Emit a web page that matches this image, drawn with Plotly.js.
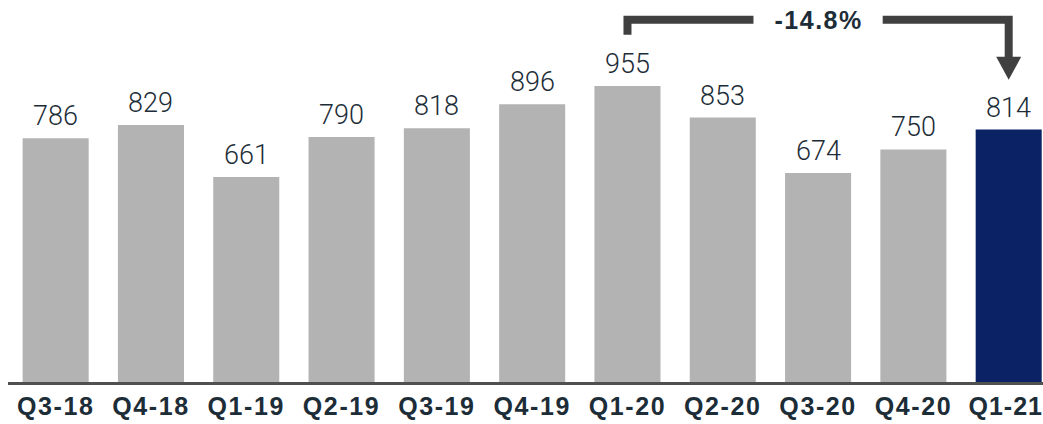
<!DOCTYPE html>
<html>
<head>
<meta charset="utf-8">
<script src="https://cdn.plot.ly/plotly-3.0.1.min.js"></script>
<style>
html,body{margin:0;padding:0;background:#fff;}
#chart{width:1043px;height:424px;}
.xtick text{letter-spacing:1.6px;}
</style>
</head>
<body>
<div id="chart"></div>
<script>
var quarters = ["Q3-18","Q4-18","Q1-19","Q2-19","Q3-19","Q4-19","Q1-20","Q2-20","Q3-20","Q4-20","Q1-21"];
var values = [786, 829, 661, 790, 818, 896, 955, 853, 674, 750, 814];
var changeLabel = "-14.8%";
var changeFrom = 6, changeTo = 10, changeLabelAt = 8;

var gray = "#b3b3b3", navy = "#0b2265", textCol = "#1d2d38", arrowCol = "#404040";
var colors = values.map(function(v, i){ return i === values.length - 1 ? navy : gray; });

var bracketY = 1168;

var trace = {
  type: "bar",
  x: quarters,
  y: values,
  marker: {color: colors, line: {width: 0}},
  hoverinfo: "none"
};

var valueAnns = quarters.map(function(q, i){
  return {x: q, y: values[i], xref: "x", yref: "y", text: String(values[i]), showarrow: false,
    xanchor: "center", yanchor: "bottom", yshift: 4,
    font: {family: "Roboto", size: 27, color: textCol, weight: 300}};
});

var layout = {
  width: 1043, height: 424,
  margin: {l: 8, r: 0, t: 0, b: 42},
  paper_bgcolor: "#fff", plot_bgcolor: "#fff",
  bargap: 0.307,
  showlegend: false,
  xaxis: {
    type: "category",
    range: [-0.5, 10.36],
    showline: true, linecolor: "#505050", linewidth: 2.5,
    showgrid: false, zeroline: false, ticks: "",
    tickfont: {family: "Liberation Sans", size: 25, color: textCol, weight: "bold"}
  },
  yaxis: {
    range: [0, 1232],
    visible: false, showgrid: false, zeroline: false
  },
  shapes: [
    {type: "path", xref: "x", yref: "y", xsizemode: "pixel", ysizemode: "pixel",
     xanchor: changeFrom, yanchor: bracketY,
     path: "M 0,-15 L 0,0 L 126,0", line: {color: arrowCol, width: 8}},
    {type: "path", xref: "x", yref: "y", xsizemode: "pixel", ysizemode: "pixel",
     xanchor: changeTo, yanchor: bracketY,
     path: "M -126,0 L 0,0 L 0,-38", line: {color: arrowCol, width: 8}},
    {type: "path", xref: "x", yref: "y", xsizemode: "pixel", ysizemode: "pixel",
     xanchor: changeTo, yanchor: bracketY,
     path: "M -12.5,-37 L 12.5,-37 L 0,-60 Z", fillcolor: arrowCol, line: {width: 0}}
  ],
  annotations: valueAnns.concat([
    {x: changeLabelAt, y: bracketY, xref: "x", yref: "y", text: changeLabel, showarrow: false,
     font: {family: "Liberation Sans", size: 25, color: textCol, weight: "bold"},
     xanchor: "center", yanchor: "middle"}
  ])
};

Plotly.newPlot("chart", [trace], layout, {displayModeBar: false, staticPlot: true}).then(function(){
  var anns = document.querySelectorAll(".annotation-text");
  var last = anns[anns.length - 1];
  if (last) last.style.letterSpacing = "1.5px";
  var ticks = document.querySelectorAll(".xtick text");
  var lastTick = ticks[ticks.length - 1];
  if (lastTick) { lastTick.style.letterSpacing = "1px"; lastTick.setAttribute("dx", "-3"); }
});
</script>
</body>
</html>
